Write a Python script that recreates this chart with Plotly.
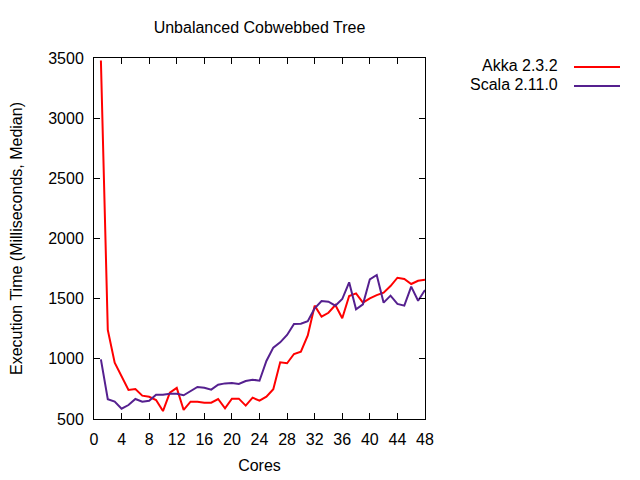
import plotly.graph_objects as go

cores = list(range(1, 49))
akka = [3480, 1240, 968, 852, 741, 749, 694, 685, 658, 566, 719, 758,
        575, 644, 644, 636, 636, 666, 589, 669, 669, 611, 677, 652,
        685, 747, 971, 963, 1040, 1059, 1195, 1442, 1350, 1383, 1447, 1337,
        1522, 1544, 1467, 1503, 1530, 1550, 1605, 1674, 1663, 1622, 1649, 1658]
scala = [996, 664, 644, 586, 616, 666, 644, 652, 702, 702, 710, 710,
         697, 733, 766, 760, 744, 785, 796, 799, 791, 816, 827, 818,
         982, 1093, 1137, 1198, 1289, 1292, 1312, 1420, 1481, 1475, 1442, 1497,
         1636, 1412, 1453, 1661, 1697, 1467, 1525, 1456, 1442, 1600, 1483, 1572]
series_names = ["Akka 2.3.2", "Scala 2.11.0"]
series_colors = ["#ff0000", "#55208f"]
x_ticks = list(range(0, 49, 4))
y_ticks = list(range(500, 3501, 500))

FONT = "Liberation Sans, Arial, sans-serif"
# the page body has an 8px default margin; the figure is sized to fit inside the window
W, H = 632, 472

fig = go.Figure()
for name, vals, col in zip(series_names, [akka, scala], series_colors):
    fig.add_trace(go.Scatter(x=cores, y=vals, mode="lines", name=name,
                             line=dict(color=col, width=2), showlegend=False))

axis_common = dict(showline=True, linecolor="black", linewidth=1, mirror="ticks",
                   ticks="inside", ticklen=6, tickcolor="black", tickwidth=1,
                   showgrid=False, zeroline=False, automargin=False,
                   tickfont=dict(family=FONT, size=16, color="black"))

fig.update_layout(
    width=W, height=H,
    margin=dict(l=86, r=215, t=50, b=61),
    paper_bgcolor="white", plot_bgcolor="white",
    font=dict(family=FONT, size=16, color="black"),
    title=dict(text="Unbalanced Cobwebbed Tree", x=0.5, xref="paper",
               y=1 - 19 / H, yref="container", yanchor="middle",
               xanchor="center", automargin=False,
               font=dict(family=FONT, size=16, color="black")),
    xaxis=dict(range=[0, 48], tickvals=x_ticks,
               title=dict(text="Cores", standoff=12,
                          font=dict(family=FONT, size=16, color="black")),
               ticklabelstandoff=6, **axis_common),
    yaxis=dict(range=[500, 3500], tickvals=y_ticks,
               title=dict(text="Execution Time (Milliseconds, Median)", standoff=21,
                          font=dict(family=FONT, size=16, color="black")),
               ticklabelstandoff=6, **axis_common),
)

# gnuplot-style legend: label on the left, sample line on the right
# (positions in page pixels of the plot frame: left 94, width 331, bottom 419, height 361)
PLOT_L, PLOT_W, PLOT_B, PLOT_H = 94, 331, 419, 361
legend_py = [65, 84]
for name, col, py in zip(series_names, series_colors, legend_py):
    fig.add_annotation(text=name, xref="paper", yref="paper",
                       x=(560 - PLOT_L) / PLOT_W, y=(PLOT_B - py) / PLOT_H,
                       xanchor="right", yanchor="middle", showarrow=False,
                       font=dict(family=FONT, size=16, color="black"))
    fig.add_shape(type="line", xref="paper", yref="paper",
                  x0=(574 - PLOT_L) / PLOT_W, x1=(620 - PLOT_L) / PLOT_W,
                  y0=(PLOT_B - py - 2) / PLOT_H, y1=(PLOT_B - py - 2) / PLOT_H,
                  line=dict(color=col, width=2))

fig.write_html("out.html")
